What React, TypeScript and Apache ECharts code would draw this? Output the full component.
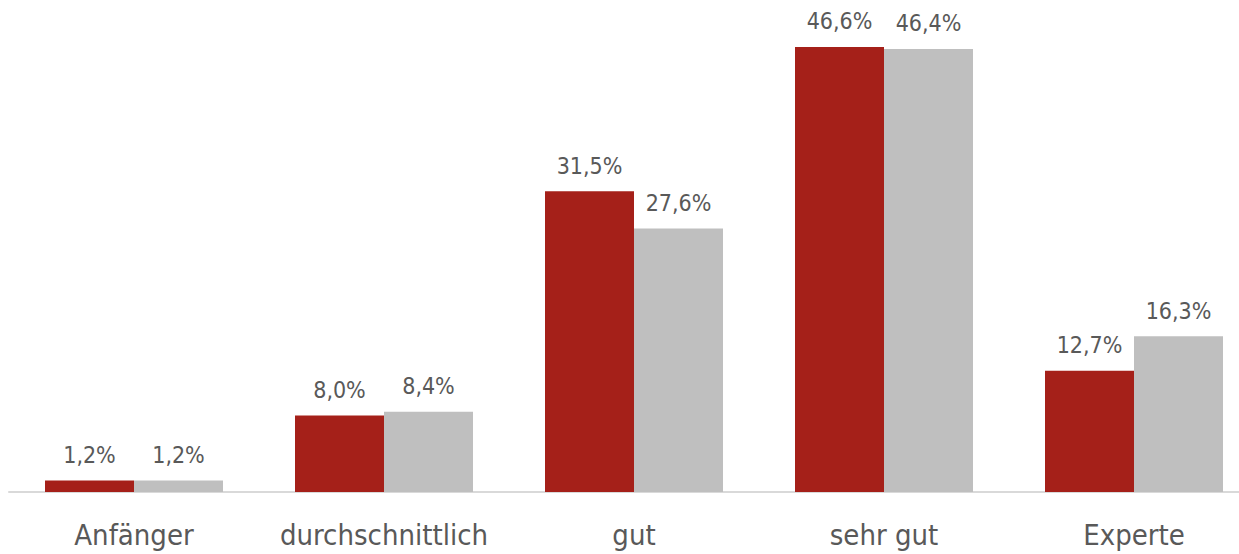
import React, { useEffect, useRef } from "react";
import * as echarts from "echarts";

const categories = ["Anfänger", "durchschnittlich", "gut", "sehr gut", "Experte"];
const seriesA = [1.2, 8.0, 31.5, 46.6, 12.7];
const seriesB = [1.2, 8.4, 27.6, 46.4, 16.3];
const colorA = "#A52019";
const colorB = "#BFBFBF";
const FONT = "'DejaVu Sans Condensed', 'Roboto', sans-serif";

const fmt = (v: number) => v.toFixed(1).replace(".", ",") + "%";

export default function App() {
  const ref = useRef<HTMLDivElement>(null);
  useEffect(() => {
    if (!ref.current) return;
    const chart = echarts.init(ref.current, null, { renderer: "svg" });
    const label = {
      show: true,
      position: "top" as const,
      distance: 14,
      color: "#595959",
      fontFamily: FONT,
      fontSize: 23,
      formatter: (p: any) => fmt(p.value),
    };
    chart.setOption({
      animation: false,
      grid: { left: 9, top: 14.5, right: 0, bottom: 62, containLabel: false },
      xAxis: {
        type: "category",
        data: categories,
        axisLine: { lineStyle: { color: "#D9D9D9", width: 2 } },
        axisTick: { show: false },
        axisLabel: { color: "#595959", fontFamily: FONT, fontSize: 29, margin: 28, interval: 0 },
      },
      yAxis: {
        type: "value",
        min: 0,
        max: 50,
        show: false,
        splitLine: { show: false },
      },
      series: [
        {
          type: "bar",
          data: seriesA,
          itemStyle: { color: colorA },
          barGap: "0%",
          barCategoryGap: "28.8%",
          label,
        },
        {
          type: "bar",
          data: seriesB,
          itemStyle: { color: colorB },
          barGap: "0%",
          barCategoryGap: "28.8%",
          label,
        },
      ],
    });
    return () => chart.dispose();
  }, []);
  return (
    <div style={{ position: "absolute", left: 0, top: 0, width: 1239, height: 554, overflow: "hidden" }}>
      <div ref={ref} style={{ width: 1259, height: 554 }} />
    </div>
  );
}
